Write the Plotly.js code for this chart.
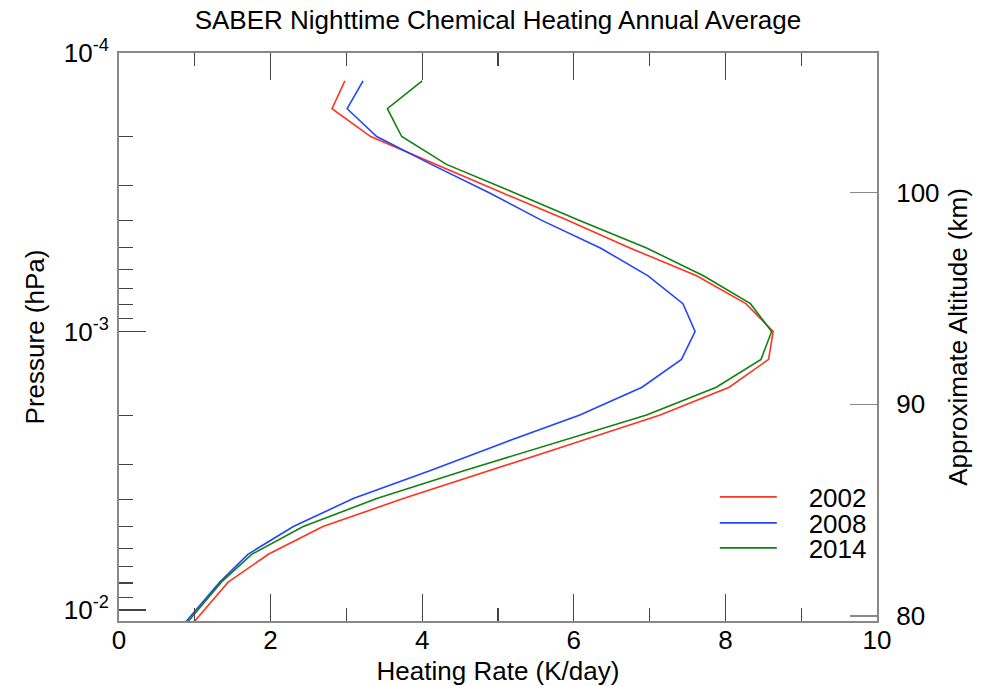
<!DOCTYPE html>
<html>
<head>
<meta charset="utf-8">
<script src="https://cdn.plot.ly/plotly-3.0.1.min.js"></script>
<style>html,body{margin:0;padding:0;background:#fff;}#chart{width:989px;height:686px;}</style>
</head>
<body>
<div id="chart"></div>
<script>
// Pressure levels (hPa)
const pressure = [1.259e-4, 1.585e-4, 1.995e-4, 2.512e-4, 3.162e-4, 3.981e-4, 5.012e-4, 6.310e-4, 7.943e-4, 1.0e-3,
                  1.259e-3, 1.585e-3, 1.995e-3, 2.512e-3, 3.162e-3, 3.981e-3, 5.012e-3, 6.310e-3, 7.943e-3, 1.0e-2, 1.259e-2];
// Heating rate (K/day)
const rate2002 = [2.98, 2.81, 3.32, 4.17, 5.04, 5.91, 6.74, 7.62, 8.27, 8.63, 8.57, 8.05, 7.14, 6.01, 4.88, 3.75, 2.69, 1.97, 1.44, 1.12, 0.81];
const rate2008 = [3.22, 3.01, 3.40, 4.12, 4.87, 5.57, 6.35, 6.98, 7.44, 7.60, 7.42, 6.90, 6.08, 5.07, 4.10, 3.09, 2.30, 1.70, 1.33, 1.01, 0.70];
const rate2014 = [4.00, 3.54, 3.73, 4.32, 5.20, 6.06, 6.96, 7.71, 8.33, 8.61, 8.47, 7.88, 6.96, 5.76, 4.55, 3.40, 2.43, 1.75, 1.35, 1.04, 0.73];
const seriesNames = ['2002', '2008', '2014'];
const pressureTicks = [1e-4, 1e-3, 1e-2];
const pressureTickText = ['10<sup>-4</sup>', '10<sup>-3</sup>', '10<sup>-2</sup>'];
const pressureMinor = [2e-4,3e-4,4e-4,5e-4,6e-4,7e-4,8e-4,9e-4,2e-3,3e-3,4e-3,5e-3,6e-3,7e-3,8e-3,9e-3];
const altitudeTicks = [80, 90, 100];

const FONT = 'Liberation Sans, Arial, Helvetica, sans-serif';
const FS = 26;
const colors = ['#ff3322', '#2244ff', '#128012'];
const rates = [rate2002, rate2008, rate2014];
const legendIds = ['legend', 'legend2', 'legend3'];
const legendY = [0.2183, 0.1725, 0.1285];
const pad = '\u00a0\u00a0\u00a0\u2009';

const traces = rates.map((r, i) => ({
  x: r, y: pressure, type: 'scatter', mode: 'lines', name: pad + seriesNames[i],
  line: {color: colors[i], width: 1.6}, xaxis: 'x', yaxis: 'y', legend: legendIds[i]
}));
traces.push({x: [], y: [], yaxis: 'y2', xaxis: 'x', type: 'scatter', mode: 'lines', showlegend: false, hoverinfo: 'skip'});

const axisLine = '#888888';
const tickCol = '#444444';

function legendBox(y) {
  return {x: 0.786, y: y, xanchor: 'left', yanchor: 'middle', bgcolor: 'rgba(0,0,0,0)', borderwidth: 0,
          font: {family: FONT, size: FS, color: '#000'}, itemwidth: 57};
}

const layout = {
  width: 989, height: 686,
  margin: {l: 119, r: 112, t: 53, b: 65, pad: 0},
  paper_bgcolor: '#fff', plot_bgcolor: '#fff',
  font: {family: FONT, size: FS, color: '#000'},
  title: {text: 'SABER Nighttime Chemical Heating Annual Average', x: 0.5035, xanchor: 'center', y: 0.971, yanchor: 'middle', font: {family: FONT, size: FS, color: '#000'}},
  showlegend: true,
  legend: legendBox(legendY[0]),
  legend2: legendBox(legendY[1]),
  legend3: legendBox(legendY[2]),
  xaxis: {
    range: [0, 10], tickvals: [0, 2, 4, 6, 8, 10], ticks: 'inside', ticklen: 27, tickwidth: 1.2, tickcolor: tickCol,
    showline: true, linecolor: axisLine, linewidth: 2, mirror: 'ticks', showgrid: false, zeroline: false,
    ticklabelstandoff: -5,
    minor: {tickvals: [1, 3, 5, 7, 9], ticks: 'inside', ticklen: 13, tickwidth: 1.2, tickcolor: tickCol, showgrid: false},
    title: {text: 'Heating Rate (K/day)', font: {family: FONT, size: FS}, standoff: -7},
    tickfont: {family: FONT, size: FS}
  },
  yaxis: {
    type: 'log', range: [-1.9605, -4], tickvals: pressureTicks, ticktext: pressureTickText,
    ticks: 'inside', ticklen: 27, tickwidth: 1.2, tickcolor: tickCol,
    showline: true, linecolor: axisLine, linewidth: 2, mirror: false, showgrid: false, zeroline: false,
    ticklabelstandoff: 3,
    minor: {tickvals: pressureMinor, ticks: 'inside', ticklen: 14, tickwidth: 1.2, tickcolor: tickCol, showgrid: false},
    title: {text: 'Pressure (hPa)', font: {family: FONT, size: FS}, standoff: 12},
    tickfont: {family: FONT, size: FS}
  },
  yaxis2: {
    overlaying: 'y', side: 'right', anchor: 'x', range: [79.76, 106.6], tickvals: altitudeTicks,
    ticks: 'inside', ticklen: 27, tickwidth: 1.2, tickcolor: axisLine,
    showline: true, linecolor: axisLine, linewidth: 2, showgrid: false, zeroline: false,
    ticklabelstandoff: 12,
    title: {text: 'Approximate Altitude (km)', font: {family: FONT, size: FS}, standoff: 10},
    tickfont: {family: FONT, size: FS}
  }
};

Plotly.newPlot('chart', traces, layout, {displayModeBar: false, staticPlot: true});
</script>
</body>
</html>
